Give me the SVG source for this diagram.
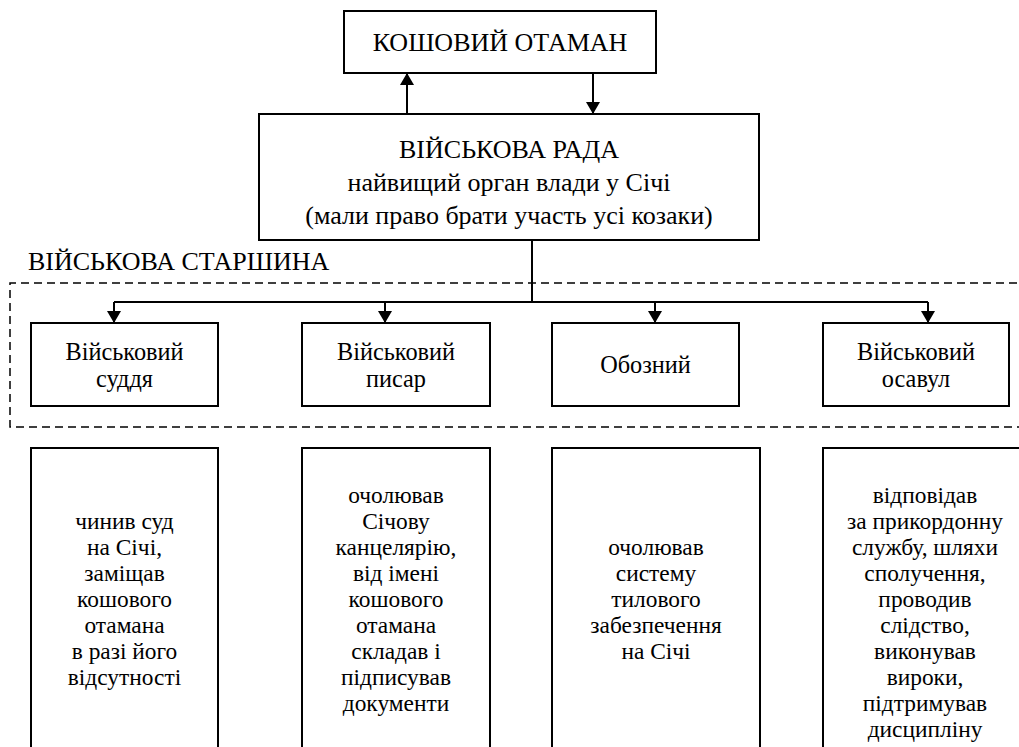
<svg xmlns="http://www.w3.org/2000/svg" width="1019" height="747" viewBox="0 0 1019 747">
<defs>
<style>
.box{fill:#fff;stroke:#000;stroke-width:2}
.t{font-family:'Liberation Serif','Times New Roman',serif;font-size:26px;fill:#000;text-anchor:middle}
.u{font-size:24.3px}
.s{font-size:23.4px}
.con{fill:none;stroke:#000;stroke-width:2}
.dash{fill:none;stroke:#000;stroke-width:1.5;stroke-dasharray:8 5}
</style>
<marker id="ah" viewBox="0 0 12 14" refX="12" refY="7" markerWidth="12" markerHeight="14" markerUnits="userSpaceOnUse" orient="auto">
<path d="M0,0 L12,7 L0,14 Z" fill="#000"/>
</marker>
</defs>
<rect width="1019" height="747" fill="#fff"/>
<path class="dash" d="M1030,283 H10 V427 H1030"/>
<text class="t" x="28" y="270" style="text-anchor:start">ВІЙСЬКОВА СТАРШИНА</text>
<g id="connectors">
<path class="con" d="M407,114 V73" marker-end="url(#ah)"/>
<path class="con" d="M593,73 V114" marker-end="url(#ah)"/>
<path class="con" d="M532,240 V302"/>
<path class="con" d="M114,302 H928"/>
<path class="con" d="M114,302 V323" marker-end="url(#ah)"/>
<path class="con" d="M385,302 V323" marker-end="url(#ah)"/>
<path class="con" d="M655,302 V323" marker-end="url(#ah)"/>
<path class="con" d="M928,302 V323" marker-end="url(#ah)"/>
</g>
<g id="koshovyi">
<rect class="box" x="344" y="11" width="312" height="62"/>
<text class="t" x="500" y="51">КОШОВИЙ ОТАМАН</text>
</g>
<g id="rada">
<rect class="box" x="259" y="114" width="500" height="126"/>
<text class="t" x="509" y="158">ВІЙСЬКОВА РАДА<tspan x="509" dy="33">найвищий орган влади у Січі</tspan><tspan x="509" dy="33">(мали право брати участь усі козаки)</tspan></text>
</g>
<g id="suddia">
<rect class="box" x="31" y="323" width="187" height="83"/>
<text class="t u" x="124.5" y="360">Військовий<tspan x="124.5" dy="27">суддя</tspan></text>
</g>
<g id="pysar">
<rect class="box" x="302" y="323" width="188" height="83"/>
<text class="t u" x="396" y="360">Військовий<tspan x="396" dy="27">писар</tspan></text>
</g>
<g id="oboznyi">
<rect class="box" x="552" y="323" width="187" height="83"/>
<text class="t u" x="645.5" y="373">Обозний</text>
</g>
<g id="osavul">
<rect class="box" x="823" y="323" width="186" height="83"/>
<text class="t u" x="916" y="360">Військовий<tspan x="916" dy="27">осавул</tspan></text>
</g>
<g id="desc-suddia">
<rect class="box" x="31" y="448" width="187" height="320"/>
<text class="t s" x="124.5" y="529">чинив суд<tspan x="124.5" dy="26">на Січі,</tspan><tspan x="124.5" dy="26">заміщав</tspan><tspan x="124.5" dy="26">кошового</tspan><tspan x="124.5" dy="26">отамана</tspan><tspan x="124.5" dy="26">в разі його</tspan><tspan x="124.5" dy="26">відсутності</tspan></text>
</g>
<g id="desc-pysar">
<rect class="box" x="302" y="448" width="188" height="320"/>
<text class="t s" x="396" y="503">очолював<tspan x="396" dy="26">Січову</tspan><tspan x="396" dy="26">канцелярію,</tspan><tspan x="396" dy="26">від імені</tspan><tspan x="396" dy="26">кошового</tspan><tspan x="396" dy="26">отамана</tspan><tspan x="396" dy="26">складав і</tspan><tspan x="396" dy="26">підписував</tspan><tspan x="396" dy="26">документи</tspan></text>
</g>
<g id="desc-oboznyi">
<rect class="box" x="552" y="448" width="208" height="320"/>
<text class="t s" x="656" y="555">очолював<tspan x="656" dy="26">систему</tspan><tspan x="656" dy="26">тилового</tspan><tspan x="656" dy="26">забезпечення</tspan><tspan x="656" dy="26">на Січі</tspan></text>
</g>
<g id="desc-osavul">
<rect class="box" x="823" y="448" width="204" height="320"/>
<text class="t s" x="925" y="503">відповідав<tspan x="925" dy="26">за прикордонну</tspan><tspan x="925" dy="26">службу, шляхи</tspan><tspan x="925" dy="26">сполучення,</tspan><tspan x="925" dy="26">проводив</tspan><tspan x="925" dy="26">слідство,</tspan><tspan x="925" dy="26">виконував</tspan><tspan x="925" dy="26">вироки,</tspan><tspan x="925" dy="26">підтримував</tspan><tspan x="925" dy="26">дисципліну</tspan></text>
</g>
</svg>
